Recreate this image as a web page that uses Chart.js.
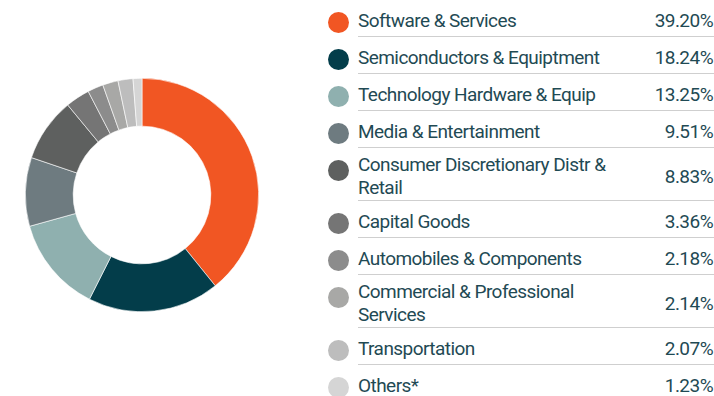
<!DOCTYPE html>
<html>
<head>
<meta charset="utf-8">
<script src="https://cdn.jsdelivr.net/npm/chart.js@4"></script>
<style>
    html, body { margin: 0; padding: 0; background: #fff; }
    body { width: 714px; height: 396px; position: relative; overflow: hidden; font-family: Roboto, sans-serif; }
    #donutBox { position: absolute; left: 25px; top: 78px; width: 234px; height: 234px; }
    #legenda { position: absolute; left: 328px; top: 0; width: 386px; color: #1f4a54; font-size: 19px; letter-spacing: -0.55px; }
    .linha { display: flex; }
    .bola { width: 21px; height: 21px; border-radius: 50%; margin-top: 12px; margin-right: 9px; flex: none; }
    .conteudo { flex: 1; display: flex; justify-content: space-between; align-items: center;
                box-sizing: border-box; min-height: 37px; padding: 5px 0 1px; border-bottom: 1px solid #cfcfcf; }
    .nome { width: 265px; line-height: 23px; }
    .valor { line-height: 23px; padding-right: 1px; }
</style>
</head>
<body>
<div id="donutBox"><canvas id="graf1"></canvas></div>
<div id="legenda"></div>

<script>
// setores e pesos (%)
var setores = ["Software & Services", "Semiconductors & Equiptment", "Technology Hardware & Equip",
    "Media & Entertainment", "Consumer Discretionary Distr & Retail", "Capital Goods",
    "Automobiles & Components", "Commercial & Professional Services", "Transportation", "Others*"];
var pesos = [39.20, 18.24, 13.25, 9.51, 8.83, 3.36, 2.18, 2.14, 2.07, 1.23];
var cores = ["#f15623", "#033d4a", "#8fb0af", "#6e7b80", "#5e605f", "#757575",
    "#8c8c8c", "#a8a8a6", "#bdbdbd", "#d5d5d5"];

// legenda em html ao lado do gráfico
function montaLegenda() {
    var box = document.getElementById('legenda');
    setores.forEach(function (nome, i) {
        var linha = document.createElement('div');
        linha.className = 'linha';
        linha.innerHTML = '<div class="bola" style="background:' + cores[i] + '"></div>' +
            '<div class="conteudo"><span class="nome">' + nome.replace('&', '&amp;') + '</span>' +
            '<span class="valor">' + pesos[i].toFixed(2) + '%</span></div>';
        box.appendChild(linha);
    });
}

function createDoughnutChart() {
    var canvas = document.getElementById('graf1');
    new Chart(canvas, {
        type: 'doughnut',
        data: {
            labels: setores,
            datasets: [{
                data: pesos,
                backgroundColor: cores,
                borderColor: '#ffffff',
                borderWidth: 0.6
            }]
        },
        options: {
            responsive: true,
            maintainAspectRatio: false,
            animation: false,
            cutout: '59%',
            layout: { padding: 0 },
            plugins: {
                legend: { display: false },
                tooltip: { enabled: false }
            }
        }
    });
}

document.addEventListener('DOMContentLoaded', function () {
    montaLegenda();
    createDoughnutChart();
});
</script>
</body>
</html>
